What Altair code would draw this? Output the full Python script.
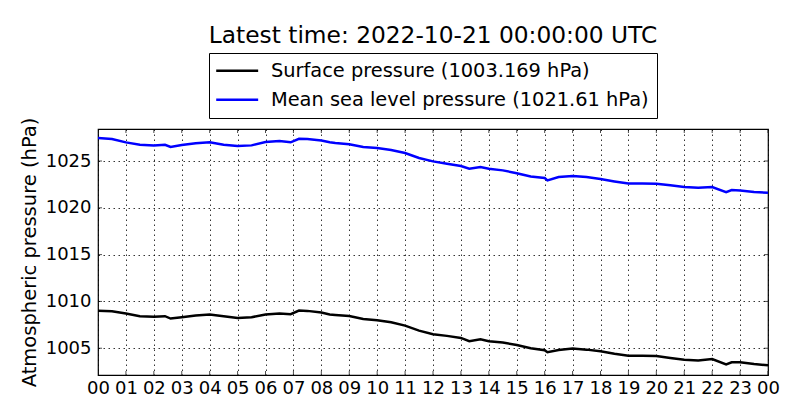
import altair as alt
import pandas as pd

hours = [0, 0.5, 1, 1.5, 2, 2.4, 2.6, 3, 3.5, 4, 4.5, 5, 5.5, 6, 6.5, 6.9, 7.2, 7.5, 8,
         8.3, 8.5, 9, 9.5, 10, 10.5, 11, 11.5, 12, 12.5, 13, 13.3, 13.7, 14, 14.5, 15,
         15.5, 16, 16.1, 16.5, 17, 17.5, 18, 18.5, 19, 19.5, 20, 20.5, 21, 21.5, 22,
         22.5, 22.7, 23, 23.5, 24]
msl = [1027.46, 1027.35, 1026.99, 1026.74, 1026.67, 1026.74, 1026.5, 1026.7, 1026.9,
       1027.0, 1026.74, 1026.6, 1026.67, 1027.03, 1027.14, 1027.0, 1027.38, 1027.35,
       1027.2, 1027.0, 1026.93, 1026.8, 1026.5, 1026.39, 1026.18, 1025.86, 1025.32,
       1024.96, 1024.71, 1024.47, 1024.18, 1024.36, 1024.18, 1024.0, 1023.7, 1023.35,
       1023.18, 1022.93, 1023.29, 1023.4, 1023.29, 1023.07, 1022.82, 1022.6, 1022.6,
       1022.57, 1022.4, 1022.22, 1022.14, 1022.22, 1021.68, 1021.9, 1021.86, 1021.68,
       1021.61]
surface = [1009.0, 1008.95, 1008.7, 1008.42, 1008.35, 1008.42, 1008.17, 1008.31, 1008.49,
           1008.6, 1008.42, 1008.24, 1008.31, 1008.6, 1008.7, 1008.64, 1009.02, 1008.99,
           1008.81, 1008.6, 1008.56, 1008.45, 1008.13, 1007.99, 1007.78, 1007.42, 1006.88,
           1006.5, 1006.32, 1006.1, 1005.75, 1005.96, 1005.75, 1005.6, 1005.35, 1005.0,
           1004.79, 1004.57, 1004.82, 1004.96, 1004.85, 1004.68, 1004.42, 1004.2, 1004.2,
           1004.17, 1003.96, 1003.78, 1003.7, 1003.85, 1003.28, 1003.5, 1003.5, 1003.31,
           1003.169]

series_names = ["Surface pressure (1003.169 hPa)", "Mean sea level pressure (1021.61 hPa)"]
series_colors = ["#000000", "#0000ff"]
hour_ticks = list(range(25))
pressure_ticks = [1005, 1010, 1015, 1020, 1025]
y_domain = [1002.14, 1028.42]
x_domain = [0, 24]
title_text = "Latest time: 2022-10-21 00:00:00 UTC"
y_title = "Atmospheric pressure (hPa)"

rows = []
for h, s in zip(hours, surface):
    rows.append({"hour": h, "value": s, "series": series_names[0]})
for h, m in zip(hours, msl):
    rows.append({"hour": h, "value": m, "series": series_names[1]})
df = pd.DataFrame(rows)

FONT = "DejaVu Sans"

xscale = alt.Scale(domain=x_domain, nice=False, zero=False)
yscale = alt.Scale(domain=y_domain, nice=False, zero=False)

label_expr = "(datum.value % 24) < 10 ? '0' + (datum.value % 24) : '' + (datum.value % 24)"

x_axis = alt.Axis(values=hour_ticks, tickCount=len(hour_ticks), labelExpr=label_expr,
                  title=None, tickSize=0, labelPadding=4, labelFontSize=18,
                  labelFont=FONT, labelColor="black", domain=False,
                  grid=True, gridColor="black", gridDash=[1.5, 3.5],
                  gridWidth=0.8, gridOpacity=1, labelFlush=False,
                  labelOverlap=False)
y_axis = alt.Axis(values=pressure_ticks, tickCount=len(pressure_ticks), format="d",
                  title=y_title, tickSize=0,
                  labelPadding=7, labelFontSize=18, labelFont=FONT,
                  labelColor="black", titleFont=FONT, titleFontSize=19.5,
                  titleFontWeight="normal", titleColor="black",
                  titlePadding=6, domain=False, grid=True,
                  gridColor="black", gridDash=[1.5, 3.5], gridWidth=0.8,
                  gridOpacity=1, labelFlush=False, labelOverlap=False)

# legend stroke symbol: long line with small symbol size so rows stay compact
legend_symbol = "M-2,0H6"

lines = alt.Chart(df).mark_line(strokeWidth=2.5, clip=True).encode(
    x=alt.X("hour:Q", scale=xscale, axis=x_axis),
    y=alt.Y("value:Q", scale=yscale, axis=y_axis),
    color=alt.Color("series:N",
                    scale=alt.Scale(domain=series_names, range=series_colors),
                    sort=series_names,
                    legend=alt.Legend(title=None, orient="none", legendX=111,
                                      legendY=-76, symbolType=legend_symbol,
                                      symbolSize=110, symbolStrokeWidth=2.5,
                                      symbolFillColor="transparent",
                                      labelFont=FONT, labelFontSize=19.4,
                                      labelColor="black", labelLimit=600,
                                      strokeColor="black", fillColor="white",
                                      padding=8, rowPadding=8, labelOffset=34.5,
                                      offset=0, direction="vertical")),
)

htick_df = pd.DataFrame({"hour": hour_ticks})
ptick_df = pd.DataFrame({"p": pressure_ticks})

tick_kw = dict(size=8, thickness=1, color="black", clip=True)
bottom_ticks = alt.Chart(htick_df).mark_tick(orient="vertical", **tick_kw).encode(
    x=alt.X("hour:Q", scale=xscale, axis=x_axis), y=alt.datum(y_domain[0]))
top_ticks = alt.Chart(htick_df).mark_tick(orient="vertical", **tick_kw).encode(
    x=alt.X("hour:Q", scale=xscale, axis=x_axis), y=alt.datum(y_domain[1]))
left_ticks = alt.Chart(ptick_df).mark_tick(orient="horizontal", **tick_kw).encode(
    y=alt.Y("p:Q", scale=yscale, axis=y_axis), x=alt.datum(x_domain[0]))
right_ticks = alt.Chart(ptick_df).mark_tick(orient="horizontal", **tick_kw).encode(
    y=alt.Y("p:Q", scale=yscale, axis=y_axis), x=alt.datum(x_domain[1]))

chart = alt.layer(lines, bottom_ticks, top_ticks, left_ticks, right_ticks).properties(
    width=670, height=246,
    title=alt.TitleParams(title_text, font=FONT, fontSize=23.3, fontWeight="normal",
                          color="black", anchor="middle", frame="group", offset=4),
    autosize=alt.AutoSizeParams(type="none"),
    padding={"left": 90, "top": 121, "right": 24, "bottom": 37},
    background="white",
).configure_view(stroke="black", strokeWidth=1.2)

chart.save("out.html", embed_options={"renderer": "svg", "actions": False})
